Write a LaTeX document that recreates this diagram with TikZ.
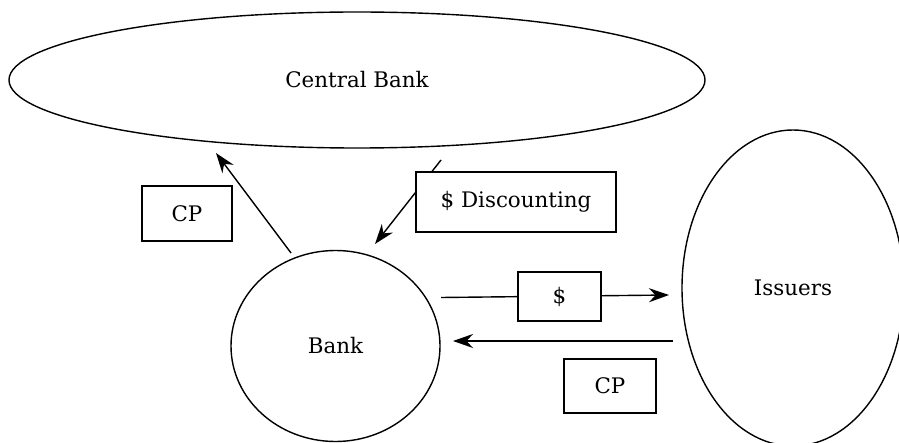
\documentclass[tikz,border=0pt]{standalone}
\usepackage{fontspec}
\setmainfont{DejaVu Serif}
\usetikzlibrary{shapes.geometric,arrows.meta}
\begin{document}
\begin{tikzpicture}[x=0.5pt,y=-0.5pt,line width=0.7pt,font=\fontsize{10.7}{12}\selectfont]

    \tikzset{
      party/.style={
        draw,
        ellipse,
        inner sep=0pt,
      },
      flowbox/.style={
        draw,
        fill=white,
        rectangle,
        inner sep=0pt,
      },
      flow/.style={
        -{Stealth[length=10pt,width=7pt]},
      },
    }
    \useasboundingbox (0,0) rectangle (899,443);
	\node[party, minimum width=348pt, minimum height=68pt] (cb) at (357,80) {Central Bank};
	\node[party, minimum width=104.5pt, minimum height=95.5pt] (bank) at (335.5,346) {Bank};
	\node[party, minimum width=111pt, minimum height=158pt] (iss) at (793,288) {Issuers};

	\coordinate (bank-up) at (291,253);
	\coordinate (cb-in) at (216,153);
	\coordinate (cb-out) at (441,160);
	\coordinate (bank-in) at (375,244);
	\coordinate (bank-east) at (441,297.5);
	\coordinate (iss-in) at (669,295);
	\coordinate (iss-out) at (673,341);
	\coordinate (bank-ret) at (453,341);

	\draw[flow] (bank-up)--(cb-in);
	\draw[flow] (cb-out)--(bank-in);
	\draw[flow] (bank-east)--(iss-in);
	\draw[flow] (iss-out)--(bank-ret);

	\node[flowbox, minimum width=45pt, minimum height=27.5pt] (cp-up) at (187,213.5) {CP};
	\node[flowbox, minimum width=100pt, minimum height=30pt] (disc) at (516,202) {\$ Discounting};
	\node[flowbox, minimum width=41.5pt, minimum height=24.5pt] (cash) at (559.5,296.5) {\$};
	\node[flowbox, minimum width=46pt, minimum height=27pt] (cp-back) at (610,386) {CP};

\end{tikzpicture}
\end{document}
